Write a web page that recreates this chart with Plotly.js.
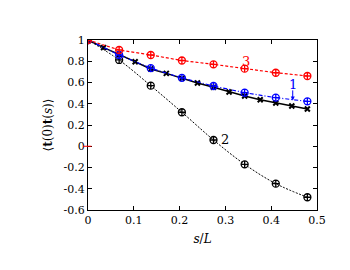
<!DOCTYPE html>
<html><head><meta charset="utf-8">
<script src="https://cdn.plot.ly/plotly-3.0.1.min.js"></script>
<style>body{margin:0;background:#fff}#c{width:350px;height:270px}</style>
</head><body><div id="c"></div>
<script>
const xCoarse = [0, 0.068, 0.137, 0.205, 0.274, 0.342, 0.41, 0.479];
const xFine = [0, 0.034, 0.068, 0.103, 0.137, 0.171, 0.205, 0.239, 0.274, 0.308, 0.342, 0.376, 0.41, 0.445, 0.479];
const y3 = [1, 0.906, 0.859, 0.807, 0.771, 0.73, 0.692, 0.661];
const y1 = [1, 0.859, 0.735, 0.643, 0.567, 0.504, 0.457, 0.423];
const yBlack = [1, 0.928, 0.865, 0.796, 0.727, 0.686, 0.639, 0.595, 0.555, 0.511, 0.473, 0.438, 0.407, 0.379, 0.351];
const y2 = [1, 0.812, 0.57, 0.32, 0.059, -0.17, -0.352, -0.48];
const labels = ['3', '1', '2'];

const font = {family: 'DejaVu Serif', size: 11, color: '#000'};
const big = Object.assign({}, font, {size: 13});
const traces = [
  {x: xFine, y: yBlack, mode: 'lines+markers', line: {color: '#000', width: 1.5},
   marker: {symbol: 'x-thin-open', size: 5, line: {color: '#000', width: 2}}},
  {x: xCoarse, y: y2, mode: 'lines+markers', line: {color: '#000', width: 1, dash: '2px,1.5px', shape: 'spline'},
   marker: {symbol: 'circle-cross-open', size: 7, color: '#000', line: {color: '#000', width: 1.3}}},
  {x: xCoarse, y: y1, mode: 'lines+markers', line: {color: '#0000ff', width: 1.2, dash: '4px,2px,1px,2px'},
   marker: {symbol: 'circle-cross-open', size: 7, color: '#0000ff', line: {color: '#0000ff', width: 1.3}}},
  {x: xCoarse, y: y3, mode: 'lines+markers', line: {color: '#ff0000', width: 1.2, dash: '3px,2px'},
   marker: {symbol: 'circle-cross-open', size: 7, color: '#ff0000', line: {color: '#ff0000', width: 1.3}}}
];
const axisCommon = {showgrid: false, zeroline: false, showline: true, linecolor: '#000', linewidth: 1,
  mirror: 'ticks', ticks: 'inside', ticklen: 4, tickcolor: '#000', tickfont: font};
const layout = {
  width: 350, height: 270, showlegend: false,
  margin: {l: 88, r: 33, t: 40, b: 60},
  paper_bgcolor: '#fff', plot_bgcolor: '#fff', font: font,
  xaxis: Object.assign({}, axisCommon, {range: [0, 0.5], tickvals: [0, 0.1, 0.2, 0.3, 0.4, 0.5],
    ticktext: ['0', '0.1', '0.2', '0.3', '0.4', '0.5'],
    title: {text: '<i>s</i>/<i>L</i>', font: Object.assign({}, font, {size: 12}), standoff: 8}}),
  yaxis: Object.assign({}, axisCommon, {range: [-0.6, 1], tickvals: [-0.6, -0.4, -0.2, 0, 0.2, 0.4, 0.6, 0.8, 1],
    ticktext: ['-0.6', '-0.4', '-0.2', '0', '0.2', '0.4', '0.6', '0.8', '1'],
    title: {text: '⟨<b>t</b>(0)<b>t</b>(<i>s</i>)⟩', font: Object.assign({}, font, {size: 12}), standoff: 8}}),
  shapes: [
    {type: 'line', xref: 'paper', yref: 'y', x0: -0.022, x1: 0.015, y0: 0, y1: 0, line: {color: '#ff0000', width: 1}}
  ],
  annotations: [
    {x: 0.345, y: 0.8, text: labels[0], showarrow: false, font: Object.assign({}, big, {color: '#ff0000'})},
    {x: 0.447, y: 0.58, text: labels[1], showarrow: false, font: Object.assign({}, big, {color: '#0000ff'})},
    {x: 0.447, y: 0.43, ax: 0.447, ay: 0.54, axref: 'x', ayref: 'y', text: '', showarrow: true,
     arrowhead: 2, arrowsize: 0.8, arrowwidth: 1, arrowcolor: '#0000ff'},
    {x: 0.3, y: 0.06, text: labels[2], showarrow: false, font: big}
  ]
};
Plotly.newPlot('c', traces, layout, {displayModeBar: false, staticPlot: true});
</script></body></html>
